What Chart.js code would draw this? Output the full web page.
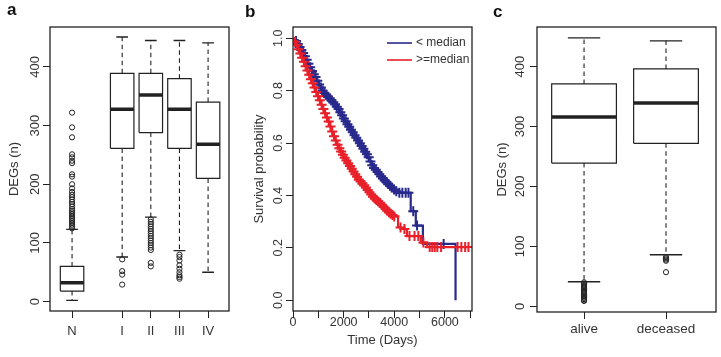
<!DOCTYPE html>
<html>
<head>
<meta charset="utf-8">
<title>DEGs by stage and survival</title>
<script src="https://cdn.jsdelivr.net/npm/chart.js@4.4.1/dist/chart.umd.min.js"></script>
<style>
  html, body { margin: 0; padding: 0; background: #fff; }
  #fig { position: relative; width: 721px; height: 357px; overflow: hidden; }
  #fig canvas { position: absolute; top: 0; }
  .tag { position: absolute; font: bold 17px "Liberation Sans", Arial, sans-serif; line-height: 17px; color: #111; }
</style>
</head>
<body>
<div id="fig">
  <canvas id="chartA" width="240" height="357" style="left:0"></canvas>
  <canvas id="chartB" width="240" height="357" style="left:240px"></canvas>
  <canvas id="chartC" width="241" height="357" style="left:480px"></canvas>
  <span class="tag" style="left:7px; top:1px">a</span>
  <span class="tag" style="left:245px; top:3px">b</span>
  <span class="tag" style="left:493px; top:3px">c</span>
</div>
<script>
/* -------------------------------------------------
   Panel a – DEGs per tumour stage
   ------------------------------------------------- */
const stageLabels = ['N', 'I', 'II', 'III', 'IV'];
const stagePos = [1, 2.75, 3.75, 4.75, 5.75];
const stageLow = [2, 76, 144, 87, 50];
const stageQ1 = [18, 261, 288, 261, 210];
const stageMedian = [32, 328, 352, 328, 268];
const stageQ3 = [60, 389, 389, 380, 340];
const stageHigh = [123, 451, 445, 445, 441];
const stageOutliers = [
  [322, 297, 280, 251, 246, 240, 236, 217, 213, 200, 193, 187, 182, 178, 174, 170, 166, 162, 158, 155, 152, 149, 146, 143, 140, 137, 134, 131, 128, 125],
  [72, 52, 46, 29],
  [140, 136, 132, 128, 124, 120, 116, 112, 108, 104, 100, 96, 92, 88, 66, 60],
  [80, 76, 70, 62, 56, 50, 45, 42, 39],
  []
];
const degTicks = [0, 100, 200, 300, 400];
const degTickLabels = ['0', '100', '200', '300', '400'];

/* -------------------------------------------------
   Panel b – Kaplan-Meier curves (days, survival)
   ------------------------------------------------- */
const lowTime = [0, 150, 300, 450, 600, 750, 900, 1050, 1200, 1400, 1600, 1800, 2000, 2200, 2400, 2600, 2800, 3000, 3150, 3300, 3500, 3700, 3900, 4150, 4650, 4650, 4850, 4850, 5130, 5130, 6420, 6420];
const lowSurv = [1, 0.985, 0.96, 0.935, 0.905, 0.875, 0.85, 0.82, 0.795, 0.775, 0.755, 0.73, 0.695, 0.665, 0.635, 0.605, 0.575, 0.545, 0.51, 0.495, 0.47, 0.45, 0.43, 0.41, 0.41, 0.34, 0.34, 0.285, 0.285, 0.215, 0.215, 0];
const highTime = [0, 150, 300, 450, 600, 750, 900, 1050, 1200, 1400, 1600, 1800, 2000, 2200, 2400, 2600, 2800, 3000, 3200, 3400, 3600, 3800, 4000, 4150, 4150, 4500, 4500, 5050, 5050, 5300, 5300, 6930];
const highSurv = [1, 0.975, 0.94, 0.905, 0.87, 0.835, 0.8, 0.765, 0.73, 0.685, 0.63, 0.585, 0.55, 0.52, 0.49, 0.46, 0.44, 0.415, 0.39, 0.375, 0.355, 0.335, 0.32, 0.32, 0.28, 0.27, 0.245, 0.245, 0.22, 0.22, 0.203, 0.203];

// censoring marks ("+")
const lowCensorTime = [120, 190, 260, 330, 400, 470, 540, 610, 680, 750, 820, 890, 960, 1030, 1100, 1170, 1240, 1310, 1380, 1450, 1520, 1590, 1660, 1730, 1800, 1870, 1940, 2010, 2080, 2150, 2220, 2290, 2360, 2430, 2500, 2570, 2640, 2710, 2780, 2850, 2920, 2990, 3060, 3130, 3200, 3270, 3340, 3410, 3480, 3550, 3620, 3690, 3760, 3830, 3900, 3990, 4080, 4200, 4320, 4450, 4560, 4750, 4900, 5950];
const lowCensorSurv = [0.99, 0.978, 0.967, 0.955, 0.944, 0.931, 0.918, 0.903, 0.889, 0.875, 0.863, 0.852, 0.838, 0.824, 0.812, 0.8, 0.791, 0.784, 0.777, 0.77, 0.763, 0.756, 0.748, 0.739, 0.73, 0.718, 0.706, 0.694, 0.683, 0.672, 0.662, 0.651, 0.641, 0.63, 0.62, 0.61, 0.599, 0.589, 0.578, 0.567, 0.557, 0.546, 0.53, 0.515, 0.505, 0.498, 0.49, 0.481, 0.472, 0.465, 0.458, 0.451, 0.444, 0.437, 0.43, 0.423, 0.416, 0.41, 0.41, 0.41, 0.41, 0.34, 0.285, 0.215];
const highCensorTime = [80, 150, 220, 290, 360, 430, 500, 570, 640, 710, 780, 850, 920, 990, 1060, 1130, 1200, 1270, 1340, 1410, 1480, 1550, 1620, 1690, 1760, 1830, 1900, 1970, 2040, 2110, 2180, 2250, 2320, 2390, 2460, 2530, 2600, 2670, 2740, 2810, 2880, 2950, 3020, 3090, 3160, 3230, 3300, 3370, 3440, 3510, 3580, 3650, 3720, 3790, 3860, 3930, 4000, 4250, 4400, 4600, 4800, 4950, 5150, 5400, 5500, 5600, 5700, 5850, 6500, 6650, 6800, 6930];
const highCensorSurv = [0.987, 0.975, 0.958, 0.942, 0.926, 0.91, 0.893, 0.877, 0.861, 0.844, 0.828, 0.812, 0.795, 0.779, 0.763, 0.746, 0.73, 0.714, 0.698, 0.682, 0.663, 0.644, 0.626, 0.61, 0.594, 0.58, 0.568, 0.555, 0.544, 0.533, 0.523, 0.512, 0.502, 0.491, 0.481, 0.471, 0.46, 0.453, 0.446, 0.439, 0.43, 0.421, 0.412, 0.404, 0.395, 0.388, 0.383, 0.377, 0.371, 0.364, 0.357, 0.35, 0.343, 0.336, 0.33, 0.325, 0.32, 0.278, 0.272, 0.245, 0.245, 0.245, 0.22, 0.203, 0.203, 0.203, 0.203, 0.203, 0.203, 0.203, 0.203, 0.203];
const timeTicks = [0, 1000, 2000, 3000, 4000, 5000, 6000, 7000];
const timeTickLabels = ['0', '', '2000', '', '4000', '', '6000', ''];
const survTicks = [0, 0.2, 0.4, 0.6, 0.8, 1];
const survTickLabels = ['0.0', '0.2', '0.4', '0.6', '0.8', '1.0'];

/* -------------------------------------------------
   Panel c – DEGs by vital status
   ------------------------------------------------- */
const statusLabels = ['alive', 'deceased'];
const statusPos = [1, 2];
const statusLow = [41, 86];
const statusQ1 = [239, 272];
const statusMedian = [316, 339];
const statusQ3 = [371, 396];
const statusHigh = [448, 443];
const statusOutliers = [
  [40, 38, 36, 34, 32, 30, 28, 26, 24, 22, 20, 18, 16, 14, 12, 10, 9],
  [82, 80, 78, 76, 57]
];

/* -------------------------------------------------
   Shared styling helpers
   ------------------------------------------------- */
const FONT = '"Liberation Sans", Arial, sans-serif';
const INK = '#222';
const TEXT = '#333';
const BLUE = '#28298c';
const RED = '#e8202a';

const framePlugin = {
  id: 'frame',
  afterDraw(chart) {
    const { ctx, chartArea: a } = chart;
    ctx.save();
    ctx.strokeStyle = INK;
    ctx.lineWidth = 1.3;
    ctx.strokeRect(a.left, a.top, a.right - a.left, a.bottom - a.top);
    ctx.restore();
  }
};

// legend for the survival panel, inside the top-right corner
const kmLegend = {
  id: 'kmLegend',
  afterDraw(chart) {
    const { ctx, chartArea: a } = chart;
    const items = chart.data.datasets.filter(d => d.legend);
    ctx.save();
    ctx.font = '12px ' + FONT;
    ctx.textBaseline = 'middle';
    ctx.fillStyle = TEXT;
    items.forEach((d, i) => {
      const y = a.top + 16 + i * 17;
      ctx.strokeStyle = d.borderColor;
      ctx.lineWidth = 1.6;
      ctx.beginPath();
      ctx.moveTo(a.right - 85, y);
      ctx.lineTo(a.right - 60, y);
      ctx.stroke();
      ctx.fillText(d.label, a.right - 56, y);
    });
    ctx.restore();
  }
};

function xAxis(o) {
  return {
    type: 'linear', min: o.min, max: o.max,
    afterBuildTicks: s => { s.ticks = o.ticks.map(v => ({ value: v })); },
    afterFit: s => { s.height = o.height; s.paddingLeft = 0; s.paddingRight = 0; },
    ticks: {
      autoSkip: false, minRotation: 0, maxRotation: 0, padding: o.pad,
      color: TEXT, font: { family: FONT, size: o.size },
      callback: (v, i) => o.labels[i]
    },
    grid: { drawOnChartArea: false, tickLength: 7, tickColor: INK, tickWidth: 1 },
    border: { display: false },
    title: o.title
      ? { display: true, text: o.title, color: TEXT, font: { family: FONT, size: 13 }, padding: { top: 0, bottom: o.titlePad } }
      : { display: false }
  };
}

function yAxis(o) {
  return {
    type: 'linear', min: o.min, max: o.max,
    afterBuildTicks: s => { s.ticks = o.ticks.map(v => ({ value: v })); },
    afterFit: s => { s.width = o.width; s.paddingTop = 0; s.paddingBottom = 0; },
    ticks: {
      autoSkip: false, minRotation: 90, maxRotation: 90, crossAlign: 'center', padding: o.pad,
      color: TEXT, font: { family: FONT, size: o.size },
      callback: (v, i) => o.labels[i]
    },
    grid: { drawOnChartArea: false, tickLength: 7, tickColor: INK, tickWidth: 1 },
    border: { display: false },
    title: { display: true, text: o.title, color: TEXT, font: { family: FONT, size: 13 }, padding: { top: o.titlePad, bottom: 0 } }
  };
}

// box, median, dashed whiskers, staples and outliers as scatter/line datasets
function boxplotSets(pos, low, q1, med, q3, high, outliers, half) {
  const box = [], mid = [], whisk = [], caps = [], dots = [];
  pos.forEach((x, i) => {
    box.push({ x: x - half, y: q1[i] }, { x: x + half, y: q1[i] }, { x: x + half, y: q3[i] },
             { x: x - half, y: q3[i] }, { x: x - half, y: q1[i] }, { x, y: null });
    mid.push({ x: x - half, y: med[i] }, { x: x + half, y: med[i] }, { x, y: null });
    whisk.push({ x, y: q3[i] }, { x, y: high[i] }, { x, y: null },
               { x, y: q1[i] }, { x, y: low[i] }, { x, y: null });
    caps.push({ x: x - half / 2, y: high[i] }, { x: x + half / 2, y: high[i] }, { x, y: null },
              { x: x - half / 2, y: low[i] }, { x: x + half / 2, y: low[i] }, { x, y: null });
    outliers[i].forEach(v => dots.push({ x, y: v }));
  });
  const line = { showLine: true, pointRadius: 0, borderColor: INK, tension: 0 };
  return [
    { ...line, data: whisk, borderWidth: 1.1, borderDash: [4.5, 3.5], order: 4 },
    { ...line, data: caps, borderWidth: 1.3, order: 3 },
    { ...line, data: box, borderWidth: 1.2, order: 2 },
    { ...line, data: mid, borderWidth: 3.5, borderCapStyle: 'butt', order: 1 },
    { data: dots, pointStyle: 'circle', pointRadius: 2.6, pointBorderWidth: 1,
      pointBorderColor: INK, pointBackgroundColor: 'rgba(255,255,255,0)', order: 0 }
  ];
}

function kmLine(t, s, color, label, order) {
  return { label, legend: true, data: t.map((x, i) => ({ x, y: s[i] })), showLine: true,
           pointRadius: 0, borderColor: color, borderWidth: 2.2, tension: 0, order };
}

function kmCensor(t, s, color, order) {
  return { data: t.map((x, i) => ({ x, y: s[i] })), pointStyle: 'cross', pointRadius: 5,
           pointBorderWidth: 2, pointBorderColor: color, borderColor: color, order };
}

function makeChart(id, cfg) {
  return new Chart(document.getElementById(id), {
    type: 'scatter',
    data: { datasets: cfg.datasets },
    options: {
      responsive: false, animation: false, devicePixelRatio: 1, events: [],
      layout: { padding: { top: cfg.top, right: cfg.right, left: 0, bottom: 0 } },
      plugins: { legend: { display: false }, tooltip: { enabled: false } },
      scales: { x: cfg.x, y: cfg.y }
    },
    plugins: [framePlugin].concat(cfg.plugins || [])
  });
}

/* -------------------------------------------------
   Build the three panels
   ------------------------------------------------- */
makeChart('chartA', {
  top: 27, right: 11,
  datasets: boxplotSets(stagePos, stageLow, stageQ1, stageMedian, stageQ3, stageHigh, stageOutliers, 0.41),
  x: xAxis({ min: 0.23, max: 6.48, ticks: stagePos, labels: stageLabels, height: 46, size: 13, pad: 6 }),
  y: yAxis({ min: -16, max: 468, ticks: degTicks, labels: degTickLabels, width: 50, size: 13, pad: -3.3,
             title: 'DEGs (n)', titlePad: 7 })
});

makeChart('chartB', {
  top: 27, right: 8,
  datasets: [
    kmLine(lowTime, lowSurv, BLUE, '< median', 3),
    kmCensor(lowCensorTime, lowCensorSurv, BLUE, 2),
    kmLine(highTime, highSurv, RED, '>=median', 1),
    kmCensor(highCensorTime, highCensorSurv, RED, 0)
  ],
  plugins: [kmLegend],
  x: xAxis({ min: 0, max: 7070, ticks: timeTicks, labels: timeTickLabels, height: 46, size: 12.5, pad: -2.5,
             title: 'Time (Days)', titlePad: 9 }),
  y: yAxis({ min: -0.041, max: 1.043, ticks: survTicks, labels: survTickLabels, width: 53, size: 12.5, pad: -1,
             title: 'Survival probability', titlePad: 12 })
});

makeChart('chartC', {
  top: 27, right: 4,
  datasets: boxplotSets(statusPos, statusLow, statusQ1, statusMedian, statusQ3, statusHigh, statusOutliers, 0.395),
  x: xAxis({ min: 0.426, max: 2.61, ticks: statusPos, labels: statusLabels, height: 45, size: 13.5, pad: 2 }),
  y: yAxis({ min: -9.5, max: 466, ticks: degTicks, labels: degTickLabels, width: 57, size: 13, pad: -0.8,
             title: 'DEGs (n)', titlePad: 15 })
});
</script>
</body>
</html>
